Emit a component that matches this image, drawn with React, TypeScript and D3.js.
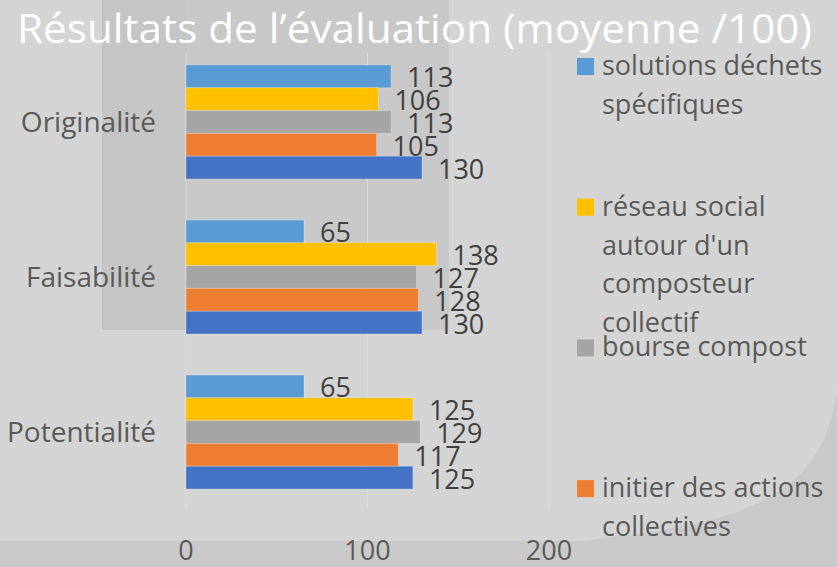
import React from "react";
import * as d3 from "d3";

const categories = ["Originalité", "Faisabilité", "Potentialité"];
const seriesNames = [
  "solutions déchets spécifiques",
  "réseau social autour d'un composteur collectif",
  "bourse compost",
  "initier des actions collectives",
  "",
];
const seriesColors = ["#5b9bd5", "#ffc000", "#a5a5a5", "#ed7d31", "#4472c4"];
// one array per series, in category order
const values = [
  [113, 65, 65],
  [106, 138, 125],
  [113, 127, 129],
  [105, 128, 117],
  [130, 130, 125],
];
const xTicks = [0, 100, 200];
// legend entries as they wrap in the picture (last series is cut off)
const legendLines = [
  ["solutions déchets", "spécifiques"],
  ["réseau social", "autour d'un", "composteur", "collectif"],
  ["bourse compost"],
  ["initier des actions", "collectives"],
];

const W = 837;
const H = 567;
const font = "'Open Sans', sans-serif";

export default function App() {
  const x = d3.scaleLinear().domain([0, 200]).range([186, 549]);
  const y = d3
    .scaleBand()
    .domain(categories)
    .range([44.5, 509.5])
    .paddingInner(0.2645)
    .paddingOuter(0.132);
  const ySub = d3
    .scaleBand()
    .domain(d3.range(seriesNames.length).map(String))
    .range([0, y.bandwidth()]);

  const legendY = d3.scaleLinear().domain([0, 1]).range([58, 198.7]);

  // darker bottom-right corner under the curved slide shape
  const corner = d3.line().curve(d3.curveBasis)([
    [837, 390],
    [830, 430],
    [808, 470],
    [772, 498],
    [725, 518],
    [650, 534],
    [560, 541],
    [560, 567],
    [837, 567],
  ]);

  return (
    <svg
      width={W}
      height={H}
      style={{ position: "absolute", left: 0, top: 0 }}
      fontFamily={font}
    >
      <rect width={W} height={H} fill="#d4d4d4" />
      <rect x={102} y={0} width={347} height={330} fill="#c8c8c8" />
      <rect x={102} y={0} width={84} height={330} fill="#c5c5c5" />
      <rect x={0} y={541} width={W} height={26} fill="#c9c9c9" />
      <path d={corner || ""} fill="#c9c9c9" />

      <text x={17} y={43} fill="#ffffff" fontSize={40} textLength={795} lengthAdjust="spacingAndGlyphs">
        Résultats de l’évaluation (moyenne /100)
      </text>

      {xTicks.map((t) => (
        <line key={t} x1={x(t)} x2={x(t)} y1={53} y2={509} stroke="#dadada" strokeWidth={1} />
      ))}

      {categories.map((c, ci) => (
        <g key={c}>
          <text
            x={156}
            y={(y(c) || 0) + y.bandwidth() / 2 + 10}
            textAnchor="end"
            fill="#595959"
            fontSize={28}
          >
            {c}
          </text>
          {values.map((vals, si) => {
            const top = (y(c) || 0) + (ySub(String(si)) || 0);
            const h = ySub.bandwidth();
            const v = vals[ci];
            return (
              <g key={si}>
                <rect
                  x={x(0)}
                  y={top}
                  width={x(v) - x(0)}
                  height={h}
                  fill={seriesColors[si]}
                  stroke="#ffffff"
                  strokeOpacity={0.25}
                  strokeWidth={1}
                />
                <text x={x(v) + 16} y={top + h / 2 + 11} fill="#404040" fontSize={27}>
                  {v}
                </text>
              </g>
            );
          })}
        </g>
      ))}

      {xTicks.map((t) => (
        <text key={t} x={x(t)} y={560} textAnchor="middle" fill="#595959" fontSize={27}>
          {t}
        </text>
      ))}

      {legendLines.map((lines, i) => {
        const top = legendY(i);
        return (
          <g key={i}>
            <rect x={577} y={top} width={17} height={17} fill={seriesColors[i]} />
            {lines.map((l, li) => (
              <text key={li} x={602} y={top + 17 + li * 38.8} fill="#595959" fontSize={27}>
                {l}
              </text>
            ))}
          </g>
        );
      })}
    </svg>
  );
}
